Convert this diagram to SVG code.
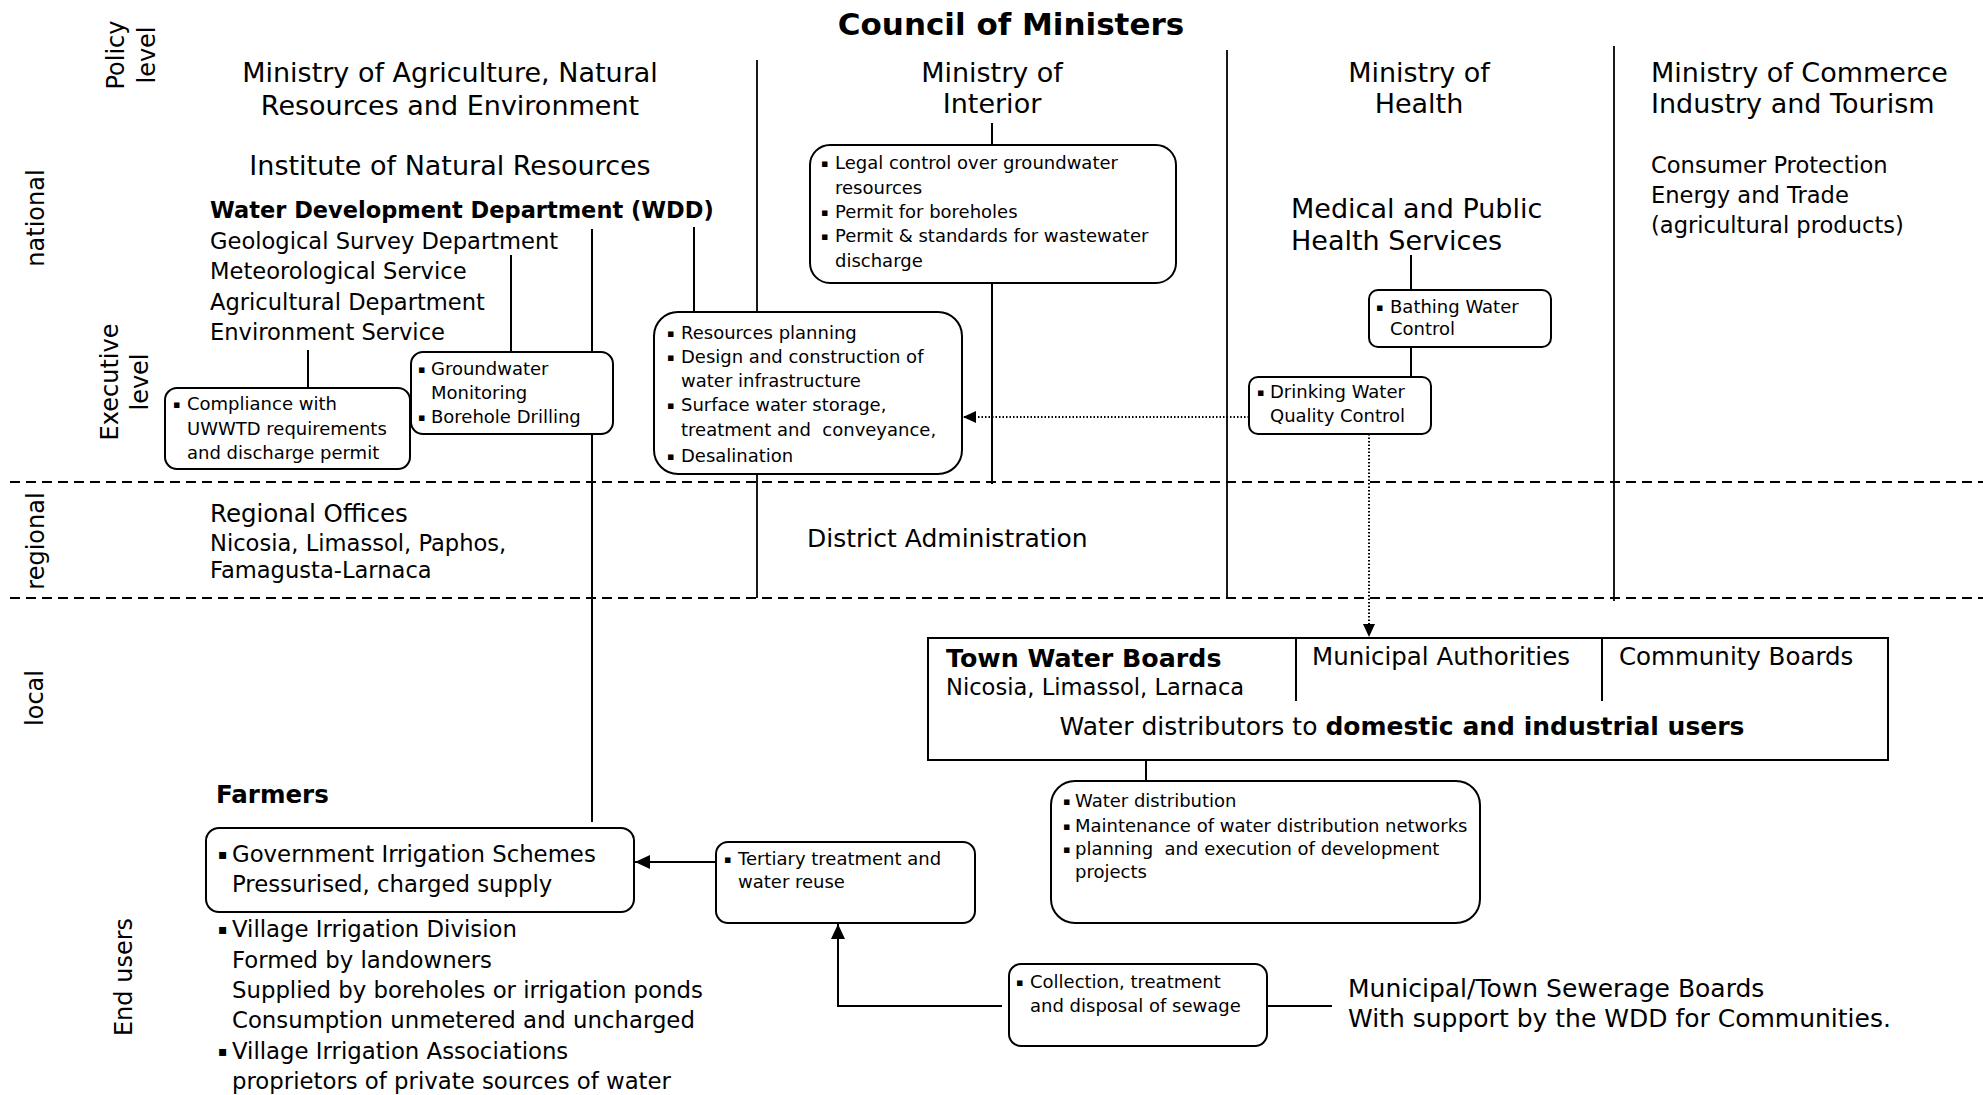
<svg xmlns="http://www.w3.org/2000/svg" width="1983" height="1095" viewBox="0 0 1983 1095">
<style>
text{font-family:"DejaVu Sans",Verdana,sans-serif;fill:#000;}
.h{font-size:27px}
.m{font-size:22.6px}
.l{font-size:24.5px}
.s{font-size:18px;white-space:pre}
.side{font-size:24px}
.b{font-weight:bold}
.bu{font-size:11px}
.bu2{font-size:14px}
.box{fill:#fff;stroke:#000;stroke-width:2}
.ln{stroke:#000;stroke-width:2;fill:none}
.sep{stroke:#000;stroke-width:1.8;fill:none}
.dash{stroke:#000;stroke-width:2;stroke-dasharray:10 6;fill:none}
.dot{stroke:#000;stroke-width:2;stroke-dasharray:1.5 2;fill:none}
</style>
<defs>
<marker id="arr" markerUnits="userSpaceOnUse" markerWidth="16" markerHeight="14" refX="15" refY="7" orient="auto">
<path d="M0,0 L15,7 L0,14 z" fill="#000"/>
</marker>
<marker id="arrd" markerUnits="userSpaceOnUse" markerWidth="14" markerHeight="12" refX="13" refY="6" orient="auto">
<path d="M0,0 L13,6 L0,12 z" fill="#000"/>
</marker>
</defs>
<rect width="1983" height="1095" fill="#fff"/>

<g id="levels">
<text class="side" transform="translate(124,55) rotate(-90)" text-anchor="middle">Policy</text>
<text class="side" transform="translate(155,55) rotate(-90)" text-anchor="middle">level</text>
<text class="side" transform="translate(44,218) rotate(-90)" text-anchor="middle">national</text>
<text class="side" transform="translate(118,382) rotate(-90)" text-anchor="middle">Executive</text>
<text class="side" transform="translate(148,382) rotate(-90)" text-anchor="middle">level</text>
<text class="side" transform="translate(44,541) rotate(-90)" text-anchor="middle">regional</text>
<text class="side" transform="translate(43,698) rotate(-90)" text-anchor="middle">local</text>
<text class="side" transform="translate(132,977) rotate(-90)" text-anchor="middle">End users</text>
</g>

<g id="grid">
<line class="dash" x1="10" y1="482" x2="1983" y2="482"/>
<line class="dash" x1="10" y1="598" x2="1983" y2="598"/>
<line class="sep" x1="757" y1="60" x2="757" y2="598"/>
<line class="sep" x1="1227" y1="50" x2="1227" y2="598"/>
<line class="sep" x1="1614" y1="46" x2="1614" y2="601"/>
</g>

<g id="connectors">
<line class="ln" x1="992" y1="123" x2="992" y2="484"/>
<line class="ln" x1="1411" y1="255" x2="1411" y2="377"/>
<line class="ln" x1="694" y1="227" x2="694" y2="312"/>
<line class="ln" x1="511" y1="255" x2="511" y2="352"/>
<line class="ln" x1="592" y1="229" x2="592" y2="822"/>
<line class="ln" x1="308" y1="350" x2="308" y2="388"/>
<line class="ln" x1="1146" y1="760" x2="1146" y2="781"/>
<path class="dot" d="M1249,417 H963" marker-end="url(#arrd)"/>
<path class="dot" d="M1369,434 V637" marker-end="url(#arrd)"/>
<path class="ln" d="M716,862 H635" marker-end="url(#arr)"/>
<path class="ln" d="M1002,1006 H838 V924" marker-end="url(#arr)"/>
<line class="ln" x1="1268" y1="1006" x2="1332" y2="1006"/>
</g>

<g id="council">
<text class="b" x="1011" y="35" font-size="31" text-anchor="middle">Council of Ministers</text>
</g>

<g id="ministry-agriculture">
<text class="h" x="450" y="82" text-anchor="middle">Ministry of Agriculture, Natural</text>
<text class="h" x="450" y="115" text-anchor="middle">Resources and Environment</text>
<text class="h" x="450" y="175" text-anchor="middle">Institute of Natural Resources</text>
</g>

<g id="wdd">
<text class="b" x="210" y="218" font-size="22.5">Water Development Department (WDD)</text>
<text class="m" x="210" y="249">Geological Survey Department</text>
<text class="m" x="210" y="279">Meteorological Service</text>
<text class="m" x="210" y="310">Agricultural Department</text>
<text class="m" x="210" y="340">Environment Service</text>
</g>

<g id="ministry-interior">
<text class="h" x="992" y="82" text-anchor="middle">Ministry of</text>
<text class="h" x="992" y="113" text-anchor="middle">Interior</text>
</g>

<g id="ministry-health">
<text class="h" x="1419" y="82" text-anchor="middle">Ministry of</text>
<text class="h" x="1419" y="113" text-anchor="middle">Health</text>
<text class="h" x="1291" y="218">Medical and Public</text>
<text class="h" x="1291" y="250">Health Services</text>
</g>

<g id="ministry-commerce">
<text class="h" x="1651" y="82">Ministry of Commerce</text>
<text class="h" x="1651" y="113">Industry and Tourism</text>
<text class="m" x="1651" y="173">Consumer Protection</text>
<text class="m" x="1651" y="203">Energy and Trade</text>
<text class="m" x="1651" y="233">(agricultural products)</text>
</g>

<g id="interior-tasks">
<rect class="box" x="810" y="145" width="366" height="138" rx="20"/>
<text class="s"><tspan class="bu" x="821" y="167">▪</tspan><tspan x="835" y="169">Legal control over groundwater</tspan><tspan x="835" y="194">resources</tspan><tspan class="bu" x="821" y="216">▪</tspan><tspan x="835" y="218">Permit for boreholes</tspan><tspan class="bu" x="821" y="240">▪</tspan><tspan x="835" y="242">Permit &amp; standards for wastewater</tspan><tspan x="835" y="267">discharge</tspan></text>
</g>

<g id="wdd-tasks">
<rect class="box" x="654" y="312" width="308" height="162" rx="24"/>
<text class="s"><tspan class="bu" x="667" y="337">▪</tspan><tspan x="681" y="339">Resources planning</tspan><tspan class="bu" x="667" y="361">▪</tspan><tspan x="681" y="363">Design and construction of</tspan><tspan x="681" y="387">water infrastructure</tspan><tspan class="bu" x="667" y="409">▪</tspan><tspan x="681" y="411">Surface water storage,</tspan><tspan x="681" y="436">treatment and  conveyance,</tspan><tspan class="bu" x="667" y="460">▪</tspan><tspan x="681" y="462">Desalination</tspan></text>
</g>

<g id="groundwater">
<rect class="box" x="411" y="352" width="202" height="82" rx="12"/>
<text class="s"><tspan class="bu" x="418" y="373">▪</tspan><tspan x="431" y="375">Groundwater</tspan><tspan x="431" y="399">Monitoring</tspan><tspan class="bu" x="418" y="421">▪</tspan><tspan x="431" y="423">Borehole Drilling</tspan></text>
</g>

<g id="compliance">
<rect class="box" x="165" y="388" width="245" height="81" rx="12"/>
<text class="s"><tspan class="bu" x="173" y="408">▪</tspan><tspan x="187" y="410">Compliance with</tspan><tspan x="187" y="435">UWWTD requirements</tspan><tspan x="187" y="459">and discharge permit</tspan></text>
</g>

<g id="bathing">
<rect class="box" x="1369" y="290" width="182" height="57" rx="9"/>
<text class="s"><tspan class="bu" x="1376" y="311">▪</tspan><tspan x="1390" y="313">Bathing Water</tspan><tspan x="1390" y="335">Control</tspan></text>
</g>

<g id="drinking">
<rect class="box" x="1249" y="377" width="182" height="57" rx="9"/>
<text class="s"><tspan class="bu" x="1257" y="396">▪</tspan><tspan x="1270" y="398">Drinking Water</tspan><tspan x="1270" y="422">Quality Control</tspan></text>
</g>

<g id="regional-offices">
<text class="l" x="210" y="522">Regional Offices</text>
<text class="m" x="210" y="551">Nicosia, Limassol, Paphos,</text>
<text class="m" x="210" y="578">Famagusta-Larnaca</text>
</g>

<g id="district">
<text x="807" y="547" font-size="25">District Administration</text>
</g>

<g id="local-distributors">
<rect x="928" y="638" width="960" height="122" fill="#fff" stroke="#000" stroke-width="2"/>
<line class="ln" x1="1296" y1="638" x2="1296" y2="701"/>
<line class="ln" x1="1602" y1="638" x2="1602" y2="701"/>
<text class="b" x="946" y="667" font-size="25.3">Town Water Boards</text>
<text class="m" x="946" y="695">Nicosia, Limassol, Larnaca</text>
<text class="l" x="1312" y="665">Municipal Authorities</text>
<text class="l" x="1619" y="665">Community Boards</text>
<text x="1402" y="735" font-size="25" text-anchor="middle">Water distributors to <tspan class="b">domestic and industrial users</tspan></text>
</g>

<g id="distribution-tasks">
<rect class="box" x="1051" y="781" width="429" height="142" rx="24"/>
<text class="s"><tspan class="bu" x="1063" y="805">▪</tspan><tspan x="1075" y="807">Water distribution</tspan><tspan class="bu" x="1063" y="830">▪</tspan><tspan x="1075" y="832">Maintenance of water distribution networks</tspan><tspan class="bu" x="1063" y="853">▪</tspan><tspan x="1075" y="855">planning  and execution of development</tspan><tspan x="1075" y="878">projects</tspan></text>
</g>

<g id="farmers">
<text class="l b" x="216" y="803">Farmers</text>
<rect class="box" x="206" y="828" width="428" height="84" rx="13"/>
<text font-size="22.8"><tspan class="bu2" x="218" y="859">▪</tspan><tspan x="232" y="862">Government Irrigation Schemes</tspan><tspan x="232" y="892">Pressurised, charged supply</tspan></text>
<text font-size="22.8"><tspan class="bu2" x="218" y="934">▪</tspan><tspan x="232" y="937">Village Irrigation Division</tspan><tspan x="232" y="968">Formed by landowners</tspan><tspan x="232" y="998">Supplied by boreholes or irrigation ponds</tspan><tspan x="232" y="1028">Consumption unmetered and uncharged</tspan><tspan class="bu2" x="218" y="1056">▪</tspan><tspan x="232" y="1059">Village Irrigation Associations</tspan><tspan x="232" y="1089">proprietors of private sources of water</tspan></text>
</g>

<g id="tertiary">
<rect class="box" x="716" y="842" width="259" height="81" rx="12"/>
<text class="s"><tspan class="bu" x="724" y="863">▪</tspan><tspan x="738" y="865">Tertiary treatment and</tspan><tspan x="738" y="888">water reuse</tspan></text>
</g>

<g id="sewage">
<rect class="box" x="1009" y="964" width="258" height="82" rx="12"/>
<text class="s"><tspan class="bu" x="1016" y="986">▪</tspan><tspan x="1030" y="988">Collection, treatment</tspan><tspan x="1030" y="1012">and disposal of sewage</tspan></text>
</g>

<g id="sewerage-boards">
<text x="1348" y="997" font-size="25">Municipal/Town Sewerage Boards</text>
<text x="1348" y="1027" font-size="25">With support by the WDD for Communities.</text>
</g>
</svg>
